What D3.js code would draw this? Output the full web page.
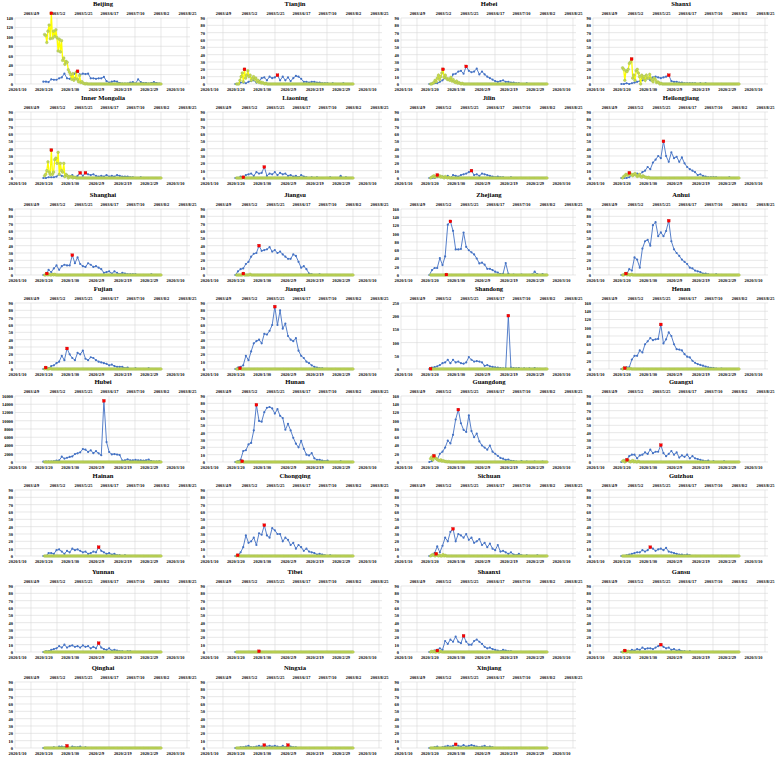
<!DOCTYPE html>
<html>
<head>
<meta charset="utf-8">
<script src="https://cdn.jsdelivr.net/npm/d3@7"></script>
<style>
body { margin: 0; background: #fff; }
text { font-family: "Liberation Serif", "Times New Roman", serif; }
</style>
</head>
<body>
<div id="chart"></div>
<script>
// ---- data ----
var provinces = ["Beijing", "Tianjin", "Hebei", "Shanxi", "Inner Mongolia", "Liaoning", "Jilin", "Heilongjiang",
  "Shanghai", "Jiangsu", "Zhejiang", "Anhui", "Fujian", "Jiangxi", "Shandong", "Henan",
  "Hubei", "Hunan", "Guangdong", "Guangxi", "Hainan", "Chongqing", "Sichuan", "Guizhou",
  "Yunnan", "Tibet", "Shaanxi", "Gansu", "Qinghai", "Ningxia", "Xinjiang"];

var yMax = [140, 90, 90, 90, 90, 90, 90, 90, 90, 90, 160, 90, 90, 90, 250, 160,
  16000, 90, 160, 90, 90, 90, 90, 90, 90, 90, 90, 90, 90, 90, 90];
var yStep = [20, 10, 10, 10, 10, 10, 10, 10, 10, 10, 20, 10, 10, 10, 50, 20,
  2000, 10, 20, 10, 10, 10, 10, 10, 10, 10, 10, 10, 10, 10, 10];

var ticks2020 = ["2020/1/10", "2020/1/20", "2020/1/30", "2020/2/9", "2020/2/19", "2020/2/29", "2020/3/10"];
var ticks2003 = ["2003/4/9", "2003/5/2", "2003/5/25", "2003/6/17", "2003/7/10", "2003/8/2", "2003/8/25"];
var first2020 = "2020/1/20";   // first day of the 2020 daily series
var first2003 = "2003/4/21";   // first day of the 2003 daily series

// 2020 daily new cases, 2020/1/20 .. 2020/3/4
var beijing20 = [5,5,4,10,9, 9,12,14,22,12, 11,17,22,27,20, 22,21,22,12,12, 11,12,12,15,6, 3,5,6,5,2, 1,1,1,3,4, 1,10,4,2,2, 1,2,4,2,1];
var tianjin20 = [0,0,2,2,1, 3,4,5,2,4, 8,9,5,10,8, 9,12,5,10,5, 9,4,8,11,10, 7,3,3,2,3, 3,2,2,1,1, 1,0,1,0,0, 0,1,0,0,0];
var hebei20 = [0,0,1,1,3, 5,8,6,6,13, 14,17,18,14,24, 18,16,17,21,13, 17,13,10,8,6, 4,3,4,5,3, 3,2,2,1,1, 0,0,1,0,0, 0,0,0,0,0];
var shanxi20 = [0,0,1,0,1, 2,3,4,5,6, 8,5,9,10,9, 8,9,10,12,4, 3,3,2,2,1, 1,1,1,1,0, 1,0,1,0,0, 0,0,0,0,0, 0,0,0,0,0];
var innerMongolia20 = [0,0,1,1,1, 2,5,3,2,4, 2,4,1,3,7, 3,7,5,4,5, 3,2,3,2,4, 2,3,2,4,3, 2,2,2,1,1, 0,0,1,0,0, 0,0,0,0,0];
var liaoning20 = [0,0,2,1,4, 5,6,3,8,6, 7,15,3,6,5, 8,4,7,5,6, 3,4,2,3,1, 4,2,1,0,1, 0,1,0,0,0, 0,1,0,0,0, 3,0,1,0,0];
var jilin20 = [0,0,0,1,2, 2,1,3,0,4, 3,2,4,5,6, 8,10,4,5,3, 6,5,4,3,2, 1,2,1,1,0, 0,1,0,0,0, 0,0,0,0,0, 0,0,0,0,0];
var heilongjiang20 = [0,0,0,1,4, 5,6,5,8,10, 15,12,21,25,30, 27,50,30,22,35, 27,29,22,28,20, 15,12,10,8,4, 5,3,2,1,1, 1,1,0,0,0, 0,1,0,0,0];
var shanghai20 = [0,0,7,4,9, 13,7,12,14,13, 13,27,16,24,15, 12,11,16,14,11, 12,10,8,3,4, 5,2,5,3,1, 3,2,1,1,1, 1,0,0,0,0, 0,1,0,0,0];
var jiangsu20 = [0,5,8,9,15, 18,25,29,30,40, 33,34,35,38,32, 34,30,32,28,25, 22,22,28,26,18, 10,12,8,2,1, 0,0,1,0,0, 0,0,0,0,0, 0,0,0,0,0];
var zhejiang20 = [0,12,17,17,41, 24,45,122,130,107, 62,62,63,103,68, 60,55,50,40,28, 30,25,15,15,12, 8,6,2,3,29, 3,0,1,0,0, 1,0,0,0,1, 8,2,0,2,0];
var anhui20 = [0,0,1,8,6, 24,21,10,36,46, 48,40,68,72,53, 58,53,60,74,46, 35,30,26,21,18, 15,10,9,6,5, 4,2,2,1,0, 0,1,0,0,0, 0,0,0,0,0];
var fujian20 = [0,0,1,4,5, 8,10,18,12,28, 20,15,12,22,20, 25,14,12,16,15, 12,10,9,8,7, 5,6,4,3,3, 3,1,2,0,0, 1,0,0,0,0, 1,0,0,0,0];
var jiangxi20 = [0,2,3,5,18, 12,24,35,38,40, 35,48,47,52,60, 85,60,80,55,62, 45,40,38,42,25, 18,15,10,8,5, 3,2,1,1,0, 0,0,0,0,0, 0,0,0,0,0];
var shandong20 = [0,5,7,10,15, 22,25,35,22,35, 25,28,22,20,25, 45,35,28,30,28, 25,12,15,10,8, 6,5,3,2,2, 202,5,3,2,3, 1,2,1,2,1, 3,1,1,0,1];
var henan20 = [0,1,4,4,23, 32,32,45,40,60, 67,75,70,72,73, 108,62,72,89,80, 60,48,47,45,36, 30,28,20,15,12, 10,8,6,4,3, 2,1,0,1,0, 0,0,0,0,0];
var hubei20 = [72,105,69,105,180, 323,371,1291,840,1032, 1220,1347,1921,2103,2345, 3156,2987,2447,2841,2147, 2618,2097,1638,14840,4823, 2420,1843,1933,1807,1693, 349,411,630,398,409, 499,401,409,318,423, 570,196,114,115,134];
var hunan20 = [0,1,3,15,16, 24,26,43,78,56, 55,68,74,75,73, 66,72,63,60,44, 52,43,33,25,20, 29,18,10,9,12, 5,3,3,2,1, 2,0,0,0,0, 1,0,0,0,0];
var guangdong20 = [0,2,10,6,20, 25,35,52,45,66, 103,127,94,78,73, 113,75,60,69,50, 40,35,30,40,25, 20,15,10,8,5, 6,3,2,1,0, 2,0,1,0,0, 1,0,0,1,0];
var guangxi20 = [0,2,3,8,10, 10,5,9,10,13, 11,17,12,14,14, 23,12,8,11,15, 10,13,6,9,7, 10,5,8,5,4, 3,2,1,2,0, 1,0,0,0,1, 0,0,0,0,0];
var hainan20 = [0,0,4,4,3, 8,9,6,3,7, 5,10,8,9,7, 5,6,3,4,6, 5,12,7,5,3, 4,2,3,1,1, 0,1,0,0,0, 0,0,0,0,0, 0,0,0,0,0];
var chongqing20 = [0,1,5,12,28, 18,20,25,15,31, 29,42,28,25,38, 35,30,30,20,25, 22,15,18,10,15, 12,7,10,6,5, 4,2,3,2,1, 0,1,0,0,0, 0,0,0,0,0];
var sichuan20 = [0,1,4,13,5, 14,25,20,33,37, 20,30,28,25,30, 22,25,18,20,23, 15,18,12,17,10, 8,15,6,7,5, 3,5,2,1,3, 1,0,1,0,0, 0,1,0,0,0];
var guizhou20 = [0,0,1,2,3, 4,5,5,8,6, 8,12,10,7,9, 10,8,11,6,5, 4,3,2,2,1, 2,1,0,0,0, 0,0,0,0,0, 0,0,0,0,0, 0,0,0,0,0];
var yunnan20 = [0,1,1,3,4, 5,8,6,10,6, 8,9,7,8,6, 9,7,8,5,7, 5,12,6,4,3, 5,2,3,2,1, 1,0,1,1,0, 0,0,0,0,0, 0,0,0,0,0];
var tibet20 = [0,0,0,0,0, 0,0,0,0,1, 0,0,0,0,0, 0,0,0,0,0, 0,0,0,0,0, 0,0,0,0,0, 0,0,0,0,0, 0,0,0,0,0, 0,0,0,0,0];
var shaanxi20 = [0,0,2,3,5, 3,15,11,17,14, 21,14,12,22,14, 10,10,15,17,14, 11,7,5,6,4, 3,2,1,3,2, 1,1,0,0,0, 0,0,0,0,0, 0,0,0,0,0];
var gansu20 = [0,0,1,1,3, 2,4,3,6,4, 5,5,4,6,8, 10,7,5,6,3, 4,2,3,1,1, 0,1,0,0,0, 0,0,0,0,0, 0,0,0,0,0, 0,0,0,0,0];
var qinghai20 = [0,0,0,0,1, 0,2,2,1,3, 0,2,1,1,2, 0,1,0,0,0, 0,0,0,0,0, 0,0,0,0,0, 0,0,0,0,0, 0,0,0,0,0, 0,0,0,0,0];
var ningxia20 = [0,0,1,1,2, 3,1,1,2,3, 2,4,2,3,2, 3,2,1,3,1, 4,2,1,1,0, 0,0,0,0,0, 0,0,0,0,0, 0,0,0,0,0, 0,0,0,0,0];
var xinjiang20 = [0,0,1,2,0, 1,2,3,2,3, 5,3,2,4,2, 3,4,3,2,1, 2,3,1,2,1, 0,0,0,0,0, 0,0,0,0,0, 0,0,0,0,0, 0,0,0,0,0];

// 2003 (SARS) daily new cases, 2003/4/21 .. 2003/8/2
var beijing03 = [105,103,88,112,125,96,150,97,112,101,
  115,98,70,95,68,92,50,55,42,48,
  46,30,25,20,10,22,8,12,25,10,
  5,18,3,5,2,1,0,1,0,0,
  0,0,0,0,0,0,0,0,0,0, 0,0,0,0,0,0,0,0,0,0, 0,0,0,0,0,0,0,0,0,0,
  0,0,0,0,0,0,0,0,0,0, 0,0,0,0,0,0,0,0,0,0, 0,0,0,0,0,0,0,0,0,0, 0,0,0,0];
var tianjin03 = [0,0,0,5,10,15,3,20,8,12,
  18,10,12,5,8,10,6,8,3,5,
  2,3,1,2,1,0,1,0,0,0,
  0,0,0,0,0,0,0,0,0,0,
  0,0,0,0,0,0,0,0,0,0, 0,0,0,0,0,0,0,0,0,0, 0,0,0,0,0,0,0,0,0,0,
  0,0,0,0,0,0,0,0,0,0, 0,0,0,0,0,0,0,0,0,0, 0,0,0,0,0,0,0,0,0,0, 0,0,0,0];
var hebei03 = [0,0,1,2,5,3,8,12,6,10,
  15,20,9,12,8,6,7,5,9,4,
  6,3,2,4,1,2,1,0,1,0,
  0,0,0,0,0,0,0,0,0,0,
  0,0,0,0,0,0,0,0,0,0, 0,0,0,0,0,0,0,0,0,0, 0,0,0,0,0,0,0,0,0,0,
  0,0,0,0,0,0,0,0,0,0, 0,0,0,0,0,0,0,0,0,0, 0,0,0,0,0,0,0,0,0,0, 0,0,0,0];
var shanxi03 = [22,20,5,18,17,20,28,30,34,8,
  12,5,18,20,15,10,0,12,8,10,
  5,12,8,8,13,8,5,3,8,6,
  2,3,2,0,1,0,0,0,0,0,
  0,0,0,0,0,0,0,0,0,0, 0,0,0,0,0,0,0,0,0,0, 0,0,0,0,0,0,0,0,0,0,
  0,0,0,0,0,0,0,0,0,0, 0,0,0,0,0,0,0,0,0,0, 0,0,0,0,0,0,0,0,0,0, 0,0,0,0];
var innerMongolia03 = [3,5,10,22,8,5,38,5,8,25,
  27,20,35,5,20,10,8,20,2,5,
  3,0,2,1,2,0,1,1,0,0,
  0,0,0,0,0,0,0,0,0,0,
  0,0,0,0,0,0,0,0,0,0, 0,0,0,0,0,0,0,0,0,0, 0,0,0,0,0,0,0,0,0,0,
  0,0,0,0,0,0,0,0,0,0, 0,0,0,0,0,0,0,0,0,0, 0,0,0,0,0,0,0,0,0,0, 0,0,0,0];
var liaoning03 = [0,0,0,0,0,0,1,0,0,0,
  0,0,0,0,0,0,0,0,0,0, 0,0,0,0,0,0,0,0,0,0, 0,0,0,0,0,0,0,0,0,0,
  0,0,0,0,0,0,0,0,0,0, 0,0,0,0,0,0,0,0,0,0, 0,0,0,0,0,0,0,0,0,0,
  0,0,0,0,0,0,0,0,0,0, 0,0,0,0,0,0,0,0,0,0, 0,0,0,0,0,0,0,0,0,0, 0,0,0,0];
var jilin03 = [0,1,2,3,1,2,4,2,3,1,
  2,1,0,2,1,0,1,0,0,0,
  0,0,0,0,0,0,0,0,0,0, 0,0,0,0,0,0,0,0,0,0,
  0,0,0,0,0,0,0,0,0,0, 0,0,0,0,0,0,0,0,0,0, 0,0,0,0,0,0,0,0,0,0,
  0,0,0,0,0,0,0,0,0,0, 0,0,0,0,0,0,0,0,0,0, 0,0,0,0,0,0,0,0,0,0, 0,0,0,0];
var heilongjiang03 = [0,2,3,5,4,4,7,5,5,3,
  5,6,4,2,3,5,2,1,3,2,
  1,1,0,1,0,0,0,0,0,0,
  0,0,0,0,0,0,0,0,0,0,
  0,0,0,0,0,0,0,0,0,0, 0,0,0,0,0,0,0,0,0,0, 0,0,0,0,0,0,0,0,0,0,
  0,0,0,0,0,0,0,0,0,0, 0,0,0,0,0,0,0,0,0,0, 0,0,0,0,0,0,0,0,0,0, 0,0,0,0];
var shanghai03 = [0,0,2,0,1,0,0,1,0,1,
  0,0,0,0,0,0,0,0,0,0, 0,0,0,0,0,0,0,0,0,0, 0,0,0,0,0,0,0,0,0,0,
  0,0,0,0,0,0,0,0,0,0, 0,0,0,0,0,0,0,0,0,0, 0,0,0,0,0,0,0,0,0,0,
  0,0,0,0,0,0,0,0,0,0, 0,0,0,0,0,0,0,0,0,0, 0,0,0,0,0,0,0,0,0,0, 0,0,0,0];
var jiangsu03 = [0,0,0,0,0,0,2,0,0,0,
  0,0,1,0,0,0,0,0,0,0,
  0,0,0,0,0,0,0,0,0,0, 0,0,0,0,0,0,0,0,0,0,
  0,0,0,0,0,0,0,0,0,0, 0,0,0,0,0,0,0,0,0,0, 0,0,0,0,0,0,0,0,0,0,
  0,0,0,0,0,0,0,0,0,0, 0,0,0,0,0,0,0,0,0,0, 0,0,0,0,0,0,0,0,0,0, 0,0,0,0];
var zhejiang03 = [0,0,0,0,0,0,0,0,0,0,
  0,0,0,0,1,0,0,0,0,0,
  0,0,0,0,0,0,0,0,0,0, 0,0,0,0,0,0,0,0,0,0,
  0,0,0,0,0,0,0,0,0,0, 0,0,0,0,0,0,0,0,0,0, 0,0,0,0,0,0,0,0,0,0,
  0,0,0,0,0,0,0,0,0,0, 0,0,0,0,0,0,0,0,0,0, 0,0,0,0,0,0,0,0,0,0, 0,0,0,0];
var anhui03 = [0,0,1,2,0,1,0,0,1,0,
  0,0,0,0,0,0,0,0,0,0, 0,0,0,0,0,0,0,0,0,0, 0,0,0,0,0,0,0,0,0,0,
  0,0,0,0,0,0,0,0,0,0, 0,0,0,0,0,0,0,0,0,0, 0,0,0,0,0,0,0,0,0,0,
  0,0,0,0,0,0,0,0,0,0, 0,0,0,0,0,0,0,0,0,0, 0,0,0,0,0,0,0,0,0,0, 0,0,0,0];
var fujian03 = [0,2,0,0,0,1,0,0,0,0,
  0,0,0,0,0,0,0,0,0,0, 0,0,0,0,0,0,0,0,0,0, 0,0,0,0,0,0,0,0,0,0,
  0,0,0,0,0,0,0,0,0,0, 0,0,0,0,0,0,0,0,0,0, 0,0,0,0,0,0,0,0,0,0,
  0,0,0,0,0,0,0,0,0,0, 0,0,0,0,0,0,0,0,0,0, 0,0,0,0,0,0,0,0,0,0, 0,0,0,0];
var jiangxi03 = [0,0,0,1,0,0,0,0,0,0,
  0,0,0,0,0,0,0,0,0,0, 0,0,0,0,0,0,0,0,0,0, 0,0,0,0,0,0,0,0,0,0,
  0,0,0,0,0,0,0,0,0,0, 0,0,0,0,0,0,0,0,0,0, 0,0,0,0,0,0,0,0,0,0,
  0,0,0,0,0,0,0,0,0,0, 0,0,0,0,0,0,0,0,0,0, 0,0,0,0,0,0,0,0,0,0, 0,0,0,0];
var shandong03 = [1,0,0,0,0,0,0,0,0,0,
  0,0,0,0,0,0,0,0,0,0, 0,0,0,0,0,0,0,0,0,0, 0,0,0,0,0,0,0,0,0,0,
  0,0,0,0,0,0,0,0,0,0, 0,0,0,0,0,0,0,0,0,0, 0,0,0,0,0,0,0,0,0,0,
  0,0,0,0,0,0,0,0,0,0, 0,0,0,0,0,0,0,0,0,0, 0,0,0,0,0,0,0,0,0,0, 0,0,0,0];
var henan03 = [0,1,2,1,0,1,0,1,0,0,
  0,0,0,0,0,0,0,0,0,0, 0,0,0,0,0,0,0,0,0,0, 0,0,0,0,0,0,0,0,0,0,
  0,0,0,0,0,0,0,0,0,0, 0,0,0,0,0,0,0,0,0,0, 0,0,0,0,0,0,0,0,0,0,
  0,0,0,0,0,0,0,0,0,0, 0,0,0,0,0,0,0,0,0,0, 0,0,0,0,0,0,0,0,0,0, 0,0,0,0];
var hunan03 = [0,0,0,0,0,1,0,0,0,0,
  0,0,0,0,0,0,0,0,0,0, 0,0,0,0,0,0,0,0,0,0, 0,0,0,0,0,0,0,0,0,0,
  0,0,0,0,0,0,0,0,0,0, 0,0,0,0,0,0,0,0,0,0, 0,0,0,0,0,0,0,0,0,0,
  0,0,0,0,0,0,0,0,0,0, 0,0,0,0,0,0,0,0,0,0, 0,0,0,0,0,0,0,0,0,0, 0,0,0,0];
var guangdong03 = [8,12,5,15,10,8,6,4,3,5,
  2,3,2,1,1,0,1,0,0,0,
  0,0,0,0,0,0,0,0,0,0, 0,0,0,0,0,0,0,0,0,0,
  0,0,0,0,0,0,0,0,0,0, 0,0,0,0,0,0,0,0,0,0, 0,0,0,0,0,0,0,0,0,0,
  0,0,0,0,0,0,0,0,0,0, 0,0,0,0,0,0,0,0,0,0, 0,0,0,0,0,0,0,0,0,0, 0,0,0,0];
var guangxi03 = [1,2,0,1,3,2,1,0,1,2,
  0,1,0,0,1,0,0,0,0,0,
  0,0,0,0,0,0,0,0,0,0, 0,0,0,0,0,0,0,0,0,0,
  0,0,0,0,0,0,0,0,0,0, 0,0,0,0,0,0,0,0,0,0, 0,0,0,0,0,0,0,0,0,0,
  0,0,0,0,0,0,0,0,0,0, 0,0,0,0,0,0,0,0,0,0, 0,0,0,0,0,0,0,0,0,0, 0,0,0,0];
var chongqing03 = [0,1,0,0,0,0,0,0,0,0,
  0,0,0,0,0,0,0,0,0,0, 0,0,0,0,0,0,0,0,0,0, 0,0,0,0,0,0,0,0,0,0,
  0,0,0,0,0,0,0,0,0,0, 0,0,0,0,0,0,0,0,0,0, 0,0,0,0,0,0,0,0,0,0,
  0,0,0,0,0,0,0,0,0,0, 0,0,0,0,0,0,0,0,0,0, 0,0,0,0,0,0,0,0,0,0, 0,0,0,0];
var sichuan03 = [0,1,2,1,0,3,1,0,1,0,
  0,2,0,1,0,0,0,0,0,0,
  0,0,0,0,0,0,0,0,0,0, 0,0,0,0,0,0,0,0,0,0,
  0,0,0,0,0,0,0,0,0,0, 0,0,0,0,0,0,0,0,0,0, 0,0,0,0,0,0,0,0,0,0,
  0,0,0,0,0,0,0,0,0,0, 0,0,0,0,0,0,0,0,0,0, 0,0,0,0,0,0,0,0,0,0, 0,0,0,0];
var shaanxi03 = [0,1,0,1,0,0,2,0,0,1,
  0,0,0,0,0,0,0,0,0,0, 0,0,0,0,0,0,0,0,0,0, 0,0,0,0,0,0,0,0,0,0,
  0,0,0,0,0,0,0,0,0,0, 0,0,0,0,0,0,0,0,0,0, 0,0,0,0,0,0,0,0,0,0,
  0,0,0,0,0,0,0,0,0,0, 0,0,0,0,0,0,0,0,0,0, 0,0,0,0,0,0,0,0,0,0, 0,0,0,0];
var gansu03 = [0,0,2,0,0,1,0,0,0,0,
  0,0,0,0,0,0,0,0,0,0, 0,0,0,0,0,0,0,0,0,0, 0,0,0,0,0,0,0,0,0,0,
  0,0,0,0,0,0,0,0,0,0, 0,0,0,0,0,0,0,0,0,0, 0,0,0,0,0,0,0,0,0,0,
  0,0,0,0,0,0,0,0,0,0, 0,0,0,0,0,0,0,0,0,0, 0,0,0,0,0,0,0,0,0,0, 0,0,0,0];
// provinces with no SARS case reported in the window
var noCases03 = [0,0,0,0,0,0,0,0,0,0,
  0,0,0,0,0,0,0,0,0,0, 0,0,0,0,0,0,0,0,0,0, 0,0,0,0,0,0,0,0,0,0,
  0,0,0,0,0,0,0,0,0,0, 0,0,0,0,0,0,0,0,0,0, 0,0,0,0,0,0,0,0,0,0,
  0,0,0,0,0,0,0,0,0,0, 0,0,0,0,0,0,0,0,0,0, 0,0,0,0,0,0,0,0,0,0, 0,0,0,0];

var series2020 = [beijing20, tianjin20, hebei20, shanxi20, innerMongolia20, liaoning20, jilin20, heilongjiang20,
  shanghai20, jiangsu20, zhejiang20, anhui20, fujian20, jiangxi20, shandong20, henan20,
  hubei20, hunan20, guangdong20, guangxi20, hainan20, chongqing20, sichuan20, guizhou20,
  yunnan20, tibet20, shaanxi20, gansu20, qinghai20, ningxia20, xinjiang20];
var series2003 = [beijing03, tianjin03, hebei03, shanxi03, innerMongolia03, liaoning03, jilin03, heilongjiang03,
  shanghai03, jiangsu03, zhejiang03, anhui03, fujian03, jiangxi03, shandong03, henan03,
  noCases03, hunan03, guangdong03, guangxi03, noCases03, chongqing03, sichuan03, noCases03,
  noCases03, noCases03, shaanxi03, gansu03, noCases03, noCases03, noCases03];

// ---- layout ----
var W = 778, H = 766;
var colX = [0, 192, 386, 578];
var rowY = [4, 98, 195, 289, 382, 476, 572, 668];
var plotTop = 14, plotBottom = 80, plotLeft = 15, plotRight = 190;

var blue = "#4472C4", yellow = "#FFFF00", yMarker = "#c8d850", yEdge = "#9bbb59", red = "#ff0000";

var parse = d3.timeParse("%Y/%m/%d");
var fmt = d3.timeFormat("%Y/%-m/%-d");

var svg = d3.select("#chart").append("svg")
    .attr("width", W)
    .attr("height", H)
    .style("background", "#fff");

function toPoints(values, first) {
    var d0 = parse(first);
    return values.map(function(v, i) {
        return {date: d3.timeDay.offset(d0, i), v: v};
    });
}

provinces.forEach(function(name, k) {
    var g = svg.append("g")
        .attr("transform", "translate(" + colX[k % 4] + "," + rowY[Math.floor(k / 4)] + ")");

    var x20 = d3.scaleTime()
        .domain([parse(ticks2020[0]), parse(ticks2020[ticks2020.length - 1])])
        .range([17, 175]);
    var x03 = d3.scaleTime()
        .domain([parse(ticks2003[0]), parse(ticks2003[ticks2003.length - 1])])
        .range([31, 187]);
    var y = d3.scaleLinear()
        .domain([0, yMax[k]])
        .range([plotBottom, plotTop]);
    var yTicks = d3.range(0, yMax[k] + 1, yStep[k]);

    // gridlines
    g.append("g").selectAll("line")
        .data(yTicks)
        .join("line")
        .attr("x1", plotLeft).attr("x2", plotRight)
        .attr("y1", function(d) { return y(d); })
        .attr("y2", function(d) { return y(d); })
        .attr("stroke", "#d9d9d9")
        .attr("stroke-width", 0.6);
    g.append("g").selectAll("line")
        .data(ticks2003.map(parse))
        .join("line")
        .attr("x1", function(d) { return x03(d); })
        .attr("x2", function(d) { return x03(d); })
        .attr("y1", plotTop).attr("y2", plotBottom)
        .attr("stroke", "#d9d9d9")
        .attr("stroke-width", 0.6);
    g.append("line")
        .attr("x1", plotLeft).attr("x2", plotLeft)
        .attr("y1", plotTop).attr("y2", plotBottom)
        .attr("stroke", "#d9d9d9")
        .attr("stroke-width", 0.6);

    // axes
    var yAxis = g.append("g")
        .attr("transform", "translate(" + (plotLeft - 1) + ",0)")
        .call(d3.axisLeft(y).tickValues(yTicks).tickFormat(d3.format("d")).tickSize(0).tickPadding(1));
    var topAxis = g.append("g")
        .attr("transform", "translate(0,11)")
        .call(d3.axisTop(x03).tickValues(ticks2003.map(parse)).tickFormat(fmt).tickSize(0).tickPadding(0));
    var bottomAxis = g.append("g")
        .attr("transform", "translate(0,84)")
        .call(d3.axisBottom(x20).tickValues(ticks2020.map(parse)).tickFormat(fmt).tickSize(0).tickPadding(0));
    [yAxis, topAxis, bottomAxis].forEach(function(a) {
        a.select(".domain").remove();
        a.attr("font-family", null).attr("font-size", null);
        a.selectAll("text")
            .style("font-size", "4.4px")
            .style("font-weight", "bold")
            .attr("fill", "#000");
    });

    // title
    g.append("text")
        .attr("x", 103)
        .attr("y", 2.2)
        .attr("text-anchor", "middle")
        .style("font-size", "6.6px")
        .style("font-weight", "bold")
        .text(name);

    var p20 = toPoints(series2020[k], first2020);
    var p03 = toPoints(series2003[k], first2003);

    // 2020 series (blue)
    g.append("path")
        .datum(p20)
        .attr("fill", "none")
        .attr("stroke", blue)
        .attr("stroke-width", 0.9)
        .attr("d", d3.line()
            .x(function(d) { return x20(d.date); })
            .y(function(d) { return y(d.v); }));
    g.append("g").selectAll("circle")
        .data(p20)
        .join("circle")
        .attr("cx", function(d) { return x20(d.date); })
        .attr("cy", function(d) { return y(d.v); })
        .attr("r", 1.1)
        .attr("fill", blue);

    // 2003 series (yellow)
    g.append("path")
        .datum(p03)
        .attr("fill", "none")
        .attr("stroke", yellow)
        .attr("stroke-width", 1.3)
        .attr("d", d3.line()
            .x(function(d) { return x03(d.date); })
            .y(function(d) { return y(d.v); }));
    g.append("g").selectAll("circle")
        .data(p03)
        .join("circle")
        .attr("cx", function(d) { return x03(d.date); })
        .attr("cy", function(d) { return y(d.v); })
        .attr("r", 1.35)
        .attr("fill", yMarker)
        .attr("stroke", yEdge)
        .attr("stroke-width", 0.4);

    // peaks in red
    var m20 = d3.max(p20, function(d) { return d.v; });
    var m03 = d3.max(p03, function(d) { return d.v; });
    var peaks = p20.filter(function(d) { return m20 > 0 && d.v === m20; })
        .map(function(d) { return {x: x20(d.date), y: y(d.v)}; })
        .concat(p03.filter(function(d) { return m03 > 0 && d.v === m03; })
        .map(function(d) { return {x: x03(d.date), y: y(d.v)}; }));
    g.append("g").selectAll("rect")
        .data(peaks)
        .join("rect")
        .attr("x", function(d) { return d.x - 1.4; })
        .attr("y", function(d) { return d.y - 1.4; })
        .attr("width", 2.8)
        .attr("height", 2.8)
        .attr("fill", red)
        .attr("stroke", "#c00000")
        .attr("stroke-width", 0.3);
});
</script>
</body>
</html>
